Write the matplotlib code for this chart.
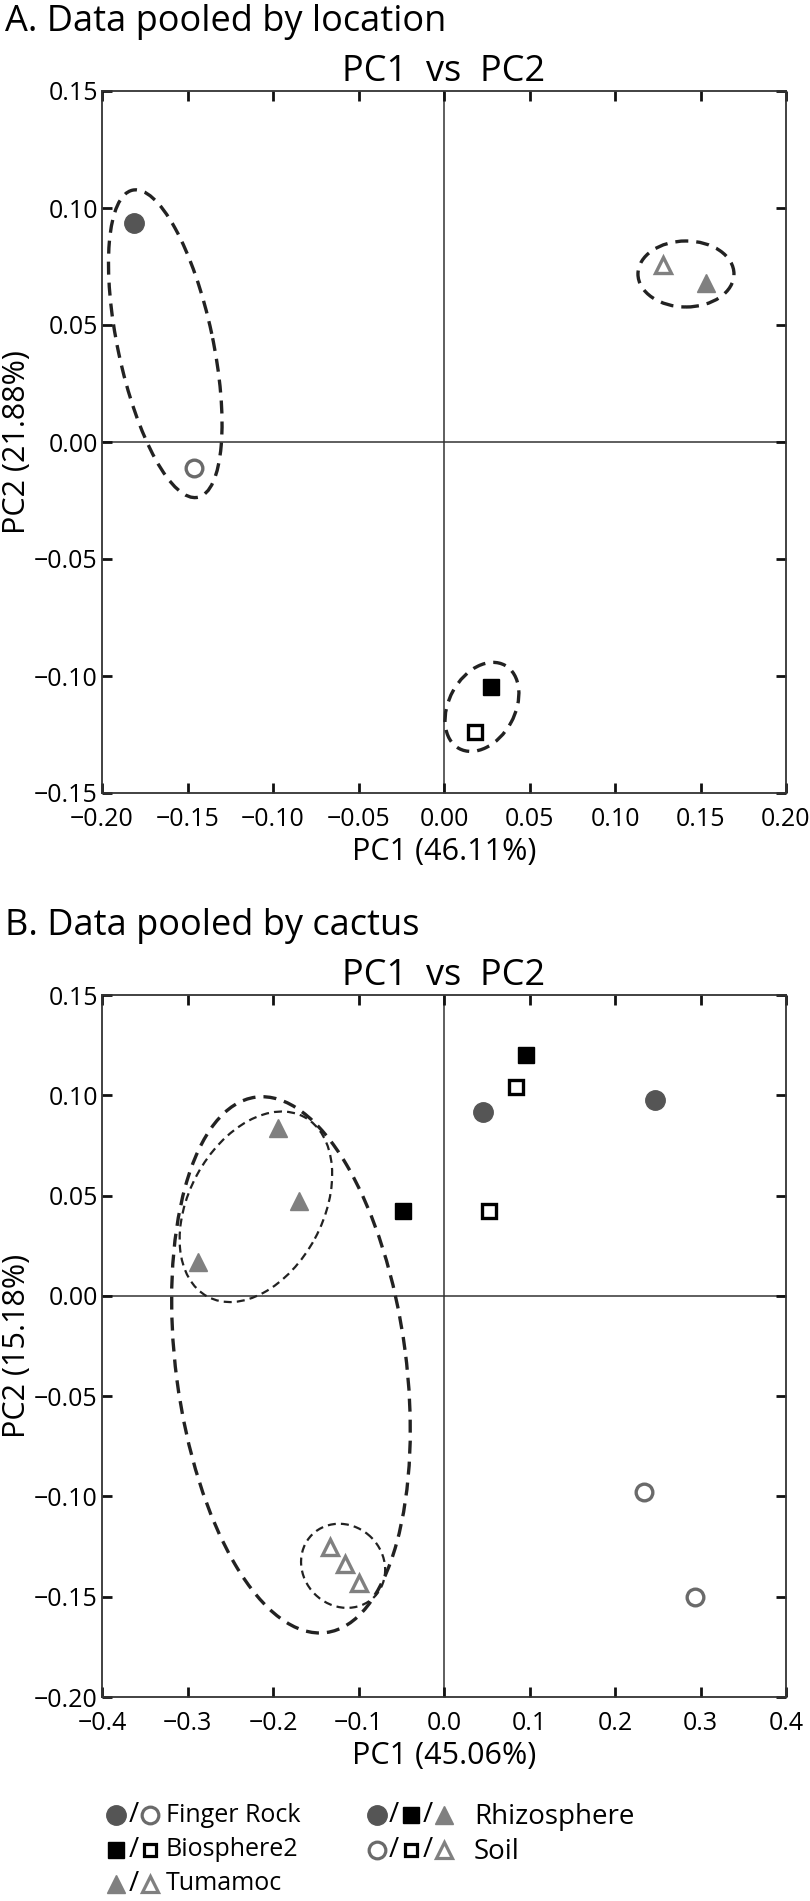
import numpy as np
import matplotlib.pyplot as plt
from matplotlib.patches import Ellipse
from matplotlib.transforms import ScaledTranslation

plt.rcParams['font.family'] = ['Open Sans', 'DejaVu Sans']

# ---- Panel A : data pooled by location (rhizosphere / soil) ----
a_fr_rhizo = ([-0.181], [0.0936])
a_fr_soil = ([-0.146], [-0.011])
a_b2_rhizo = ([0.0275], [-0.1047])
a_b2_soil = ([0.018], [-0.124])
a_tu_rhizo = ([0.153], [0.068])
a_tu_soil = ([0.128], [0.0756])

# ---- Panel B : data pooled by cactus ----
b_fr_rhizo = ([0.0456, 0.247], [0.0917, 0.0978])
b_fr_soil = ([0.234, 0.293], [-0.098, -0.150])
b_b2_rhizo = ([0.096, -0.048], [0.120, 0.0424])
b_b2_soil = ([0.084, 0.0526], [0.104, 0.0424])
b_tu_rhizo = ([-0.194, -0.170, -0.288], [0.0837, 0.0474, 0.017])
b_tu_soil = ([-0.133, -0.116, -0.099], [-0.125, -0.1336, -0.143])

# group ellipses: centre x, centre y (data), semi axes (px), angle (deg)
a_ell_cx = [-0.163, 0.1415, 0.0222]
a_ell_cy = [0.042, 0.0718, -0.1132]
a_ell_a = [157, 48, 47.5]
a_ell_b = [47.5, 33, 33]
a_ell_ang = [102, 0, 61]

b_ell_cx = [-0.179, -0.220, -0.118]
b_ell_cy = [-0.0344, 0.0444, -0.1346]
b_ell_a = [270, 102, 44]
b_ell_b = [115, 67, 40]
b_ell_ang = [97.5, 61.7, 135]
b_ell_thin = [False, True, True]

xticks_a = np.arange(-0.20, 0.201, 0.05)
yticks_a = np.arange(-0.15, 0.151, 0.05)
xticks_b = np.arange(-0.4, 0.401, 0.1)
yticks_b = np.arange(-0.20, 0.151, 0.05)

GREY_DARK = '#555555'
GREY = '#808080'
GREY_OPEN = '#6a6a6a'

fig = plt.figure(figsize=(8.1, 19.01), dpi=100)
axA = fig.add_axes([102/810, 1 - 793/1901, 684/810, 702/1901])
axB = fig.add_axes([102/810, 1 - 1697/1901, 684/810, 702/1901])


def fmt(vals, nd):
    return [f'{v:.{nd}f}'.replace('-', '\u2212') if abs(v) > 1e-9 else f'{0:.{nd}f}' for v in vals]


def scatter_groups(ax, fr_r, fr_s, b2_r, b2_s, tu_r, tu_s):
    ax.plot(*fr_r, 'o', ms=14, mfc=GREY_DARK, mec=GREY_DARK, ls='none', zorder=5)
    ax.plot(*fr_s, 'o', ms=12, mfc='white', mec=GREY_OPEN, mew=2.4, ls='none', zorder=5)
    ax.plot(*b2_r, 's', ms=11, mfc='black', mec='black', ls='none', zorder=5)
    ax.plot(*b2_s, 's', ms=10, mfc='white', mec='black', mew=2.4, ls='none', zorder=5)
    ax.plot(*tu_r, '^', ms=13, mfc=GREY, mec=GREY, ls='none', zorder=5)
    ax.plot(*tu_s, '^', ms=11, mfc='white', mec=GREY, mew=2.4, ls='none', zorder=5)


def draw_ellipses(ax, cx, cy, a, b, ang, thin):
    for i in range(len(cx)):
        tr = fig.dpi_scale_trans + ScaledTranslation(cx[i], cy[i], ax.transData)
        if thin[i]:
            lw, ls = 1.6, (0, (3.6, 2.3))
        else:
            lw, ls = 2.4, (0, (3.9, 2.4))
        e = Ellipse((0, 0), 2*a[i]/100, 2*b[i]/100, angle=ang[i], transform=tr,
                    fill=False, edgecolor='#222222', lw=lw, linestyle=ls, zorder=4)
        ax.add_patch(e)


def style_axes(ax, xt, yt, nd_x, nd_y, xlabel, ylabel):
    ax.set_xlim(xt[0], xt[-1])
    ax.set_ylim(yt[0], yt[-1])
    ax.set_xticks(xt)
    ax.set_xticklabels(fmt(xt, nd_x))
    ax.set_yticks(yt)
    ax.set_yticklabels(fmt(yt, nd_y))
    ax.tick_params(direction='in', top=True, right=True, length=7, width=2,
                   labelsize=18, pad=3, color='#111111')
    ax.tick_params(axis='x', pad=10)
    for s in ax.spines.values():
        s.set_linewidth(1.3)
        s.set_color('#333333')
    ax.axhline(0, color='#333333', lw=1.1, zorder=1)
    ax.axvline(0, color='#333333', lw=1.1, zorder=1)
    ax.set_xlabel(xlabel, fontsize=22, labelpad=4)
    ax.set_ylabel(ylabel, fontsize=22)
    ax.yaxis.set_label_coords(-0.103, 0.5)
    ax.set_title('PC1  vs  PC2', fontsize=26, pad=7)


style_axes(axA, xticks_a, yticks_a, 2, 2, 'PC1 (46.11%)', 'PC2 (21.88%)')
scatter_groups(axA, a_fr_rhizo, a_fr_soil, a_b2_rhizo, a_b2_soil, a_tu_rhizo, a_tu_soil)
draw_ellipses(axA, a_ell_cx, a_ell_cy, a_ell_a, a_ell_b, a_ell_ang, [False]*3)

style_axes(axB, xticks_b, yticks_b, 1, 2, 'PC1 (45.06%)', 'PC2 (15.18%)')
scatter_groups(axB, b_fr_rhizo, b_fr_soil, b_b2_rhizo, b_b2_soil, b_tu_rhizo, b_tu_soil)
draw_ellipses(axB, b_ell_cx, b_ell_cy, b_ell_a, b_ell_b, b_ell_ang, b_ell_thin)

fig.text(5/810, 1 - 22/1901, 'A. Data pooled by location', fontsize=26, ha='left', va='center')
fig.text(5/810, 1 - 926/1901, 'B. Data pooled by cactus', fontsize=26, ha='left', va='center')

# ---- legend drawn in pixel space ----
leg = fig.add_axes([0, 0, 1, 1], zorder=-1)
leg.set_xlim(0, 810)
leg.set_ylim(1901, 0)
leg.axis('off')

filled = dict(o=GREY_DARK, s='black', **{'^': GREY})
opened = dict(o=GREY_OPEN, s='black', **{'^': GREY})
msz = {'o': 14, 's': 11, '^': 13}


def leg_marker(x, y, m, open_):
    if open_:
        leg.plot(x, y, m, ms=msz[m]-2, mfc='white', mec=opened[m], mew=2.3)
    else:
        leg.plot(x, y, m, ms=msz[m], mfc=filled[m], mec=filled[m])


def slash(x, y):
    leg.text(x, y, '/', fontsize=20, ha='center', va='center')


rows = [1815, 1850, 1884]
site_names = ['Finger Rock', 'Biosphere2', 'Tumamoc']
site_markers = ['o', 's', '^']
for yy, nm, m in zip(rows, site_names, site_markers):
    leg_marker(116, yy, m, False)
    slash(134, yy)
    leg_marker(150, yy, m, True)
    leg.text(166, yy, nm, fontsize=18, ha='left', va='center')

for yy, nm, open_ in zip(rows[:2], ['Rhizosphere', 'Soil'], [False, True]):
    for xx, m in zip([377, 411, 444], site_markers):
        leg_marker(xx, yy, m, open_)
    slash(394, yy)
    slash(428, yy)
    leg.text(474, yy + 2, nm, fontsize=20, ha='left', va='center')

fig.savefig('out.png', dpi=100)
